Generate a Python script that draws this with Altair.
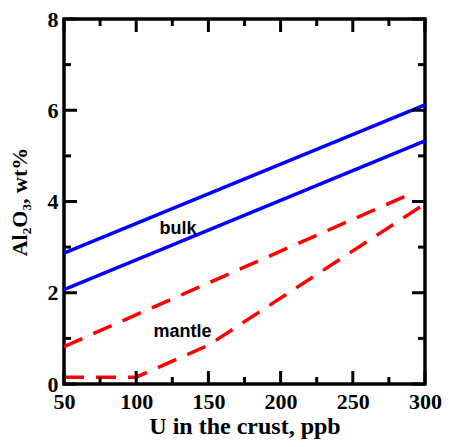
import altair as alt
import pandas as pd

# ---- data ----
bulk_hi_x = [50, 300]
bulk_hi_y = [2.87, 6.12]
bulk_lo_x = [50, 300]
bulk_lo_y = [2.07, 5.33]
mantle_hi_x = [50, 291]
mantle_hi_y = [0.82, 4.18]
mantle_lo_x = [50, 100, 150, 300]
mantle_lo_y = [0.15, 0.15, 0.85, 3.95]

x_major = [50, 100, 150, 200, 250, 300]
x_minor = [75, 125, 175, 225, 275]
y_major = [0, 2, 4, 6, 8]
y_minor = [1, 3, 5, 7]

label_text = ["bulk", "mantle"]
label_x = [129, 132]
label_y = [3.4, 1.14]

W, H = 361, 365
TOP = 11
MAJ, MIN = 13, 7

def series(name, xs, ys):
    return pd.DataFrame({"u": xs, "al": ys, "s": name})

blue = pd.concat([series("bulk_hi", bulk_hi_x, bulk_hi_y),
                  series("bulk_lo", bulk_lo_x, bulk_lo_y)])
red = pd.concat([series("mantle_hi", mantle_hi_x, mantle_hi_y),
                 series("mantle_lo", mantle_lo_x, mantle_lo_y)])

xs = alt.Scale(domain=[50, 300], nice=False, zero=False)
ys = alt.Scale(domain=[0, 8], nice=False, zero=False)

FONT = "Liberation Serif"

x_axis = alt.Axis(values=x_major, format="d", ticks=False, tickSize=0, domain=False, grid=False,
                  labelFont=FONT, labelFontWeight="bold", labelFontSize=22, labelColor="black",
                  labelPadding=7, labelFlush=False, labelOverlap=False,
                  title="U in the crust, ppb", titleFont=FONT, titleFontWeight="bold",
                  titleFontSize=24, titleColor="black", titlePadding=2)
y_axis = alt.Axis(values=y_major, format="d", ticks=False, tickSize=0, domain=False, grid=False,
                  labelFont=FONT, labelFontWeight="bold", labelFontSize=22, labelColor="black",
                  labelPadding=6, labelFlush=False, labelOverlap=False,
                  title="Al₂O₃, wt%", titleFont=FONT, titleFontWeight="bold",
                  titleFontSize=22, titleColor="black", titlePadding=16)

X = lambda: alt.X("u:Q", scale=xs, axis=x_axis)
Y = lambda: alt.Y("al:Q", scale=ys, axis=y_axis)

blue_layer = alt.Chart(blue).mark_line(color="#0000FF", strokeWidth=3.5).encode(
    x=X(), y=Y(), detail="s:N",
)
red_layer = alt.Chart(red).mark_line(color="#FF0000", strokeWidth=3.5, strokeDash=[20, 12]).encode(
    x=X(), y=Y(), detail="s:N",
)

lab = pd.DataFrame({"t": label_text, "u": label_x, "al": label_y})
text_layer = alt.Chart(lab).mark_text(font="Liberation Sans", fontWeight="bold", fontSize=18,
                                      color="black", align="center", baseline="middle").encode(
    x=X(), y=Y(), text="t:N",
)

def xticks(vals, length):
    d = pd.DataFrame({"u": vals})
    bottom = alt.Chart(d).mark_rule(color="black", strokeWidth=3).encode(
        x=X(), y=alt.value(H), y2=alt.value(H - length))
    top = alt.Chart(d).mark_rule(color="black", strokeWidth=3).encode(
        x=X(), y=alt.value(0), y2=alt.value(length))
    return [bottom, top]

def yticks(vals, length):
    d = pd.DataFrame({"al": vals})
    left = alt.Chart(d).mark_rule(color="black", strokeWidth=3).encode(
        y=Y(), x=alt.value(0), x2=alt.value(length))
    right = alt.Chart(d).mark_rule(color="black", strokeWidth=3).encode(
        y=Y(), x=alt.value(W), x2=alt.value(W - length))
    return [left, right]

ticks = xticks(x_major, MAJ) + xticks(x_minor, MIN) + yticks(y_major, MAJ) + yticks(y_minor, MIN)

chart = alt.layer(blue_layer, red_layer, text_layer, *ticks).properties(
    width=W, height=H,
    background="white",
    autosize=alt.AutoSizeParams(type="none"),
    padding={"left": 56, "top": TOP, "right": 435 - 56 - W, "bottom": 431 - TOP - H},
).configure_view(stroke="black", strokeWidth=3.5)

chart.save("out.html", embed_options={"renderer": "svg", "actions": False})
